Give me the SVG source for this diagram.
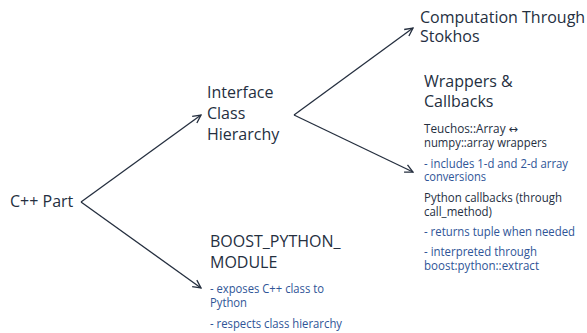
<svg xmlns="http://www.w3.org/2000/svg" width="587" height="333" viewBox="0 0 587 333">
<style>
.h{font-family:"Open Sans",sans-serif;font-size:16px;fill:#252f3f}
.s{font-family:"Open Sans",sans-serif;font-size:12.6px;fill:#252f3f}
.b{font-family:"Open Sans",sans-serif;font-size:12.6px;fill:#2f5597}
.c{stroke:#252f3f;stroke-width:1.3;fill:none}
.sym{font-family:"DejaVu Sans",sans-serif;font-size:12px}
</style>
<defs>
<marker id="ah" viewBox="0 0 10 10" refX="9" refY="5" markerWidth="10" markerHeight="10" markerUnits="userSpaceOnUse" orient="auto">
<polyline points="1,1 9,5 1,9" fill="none" stroke="#252f3f" stroke-width="1.3"/>
</marker>
</defs>
<rect width="587" height="333" fill="#ffffff"/>
<g id="connectors">
<path class="c" d="M81,202 L201,115" marker-end="url(#ah)"/>
<path class="c" d="M81,202 L201,288" marker-end="url(#ah)"/>
<path class="c" d="M294,115 L413,28" marker-end="url(#ah)"/>
<path class="c" d="M294,115 L413,172" marker-end="url(#ah)"/>
</g>
<g id="cpp">
<text class="h" x="10" y="207">C++ Part</text>
</g>
<g id="interface">
<text class="h" x="207" y="98">Interface</text>
<text class="h" x="207" y="119">Class</text>
<text class="h" x="207" y="140">Hierarchy</text>
</g>
<g id="computation">
<text class="h" x="420" y="22.5">Computation Through</text>
<text class="h" x="420" y="42">Stokhos</text>
</g>
<g id="wrappers">
<text class="h" x="424" y="86.5">Wrappers &amp;</text>
<text class="h" x="424" y="107">Callbacks</text>
<text class="s" x="424" y="133" textLength="94" lengthAdjust="spacingAndGlyphs">Teuchos::Array <tspan class="sym">↔</tspan></text>
<text class="s" x="424" y="147" textLength="123" lengthAdjust="spacingAndGlyphs">numpy::array wrappers</text>
<text class="b" x="424" y="168" textLength="144" lengthAdjust="spacingAndGlyphs">- includes 1-d and 2-d array</text>
<text class="b" x="424" y="181" textLength="62" lengthAdjust="spacingAndGlyphs">conversions</text>
<text class="s" x="424" y="202" textLength="138" lengthAdjust="spacingAndGlyphs">Python callbacks (through</text>
<text class="s" x="424" y="216" textLength="68" lengthAdjust="spacingAndGlyphs">call_method)</text>
<text class="b" x="424" y="236" textLength="151" lengthAdjust="spacingAndGlyphs">- returns tuple when needed</text>
<text class="b" x="424" y="256" textLength="113" lengthAdjust="spacingAndGlyphs">- interpreted through</text>
<text class="b" x="424" y="270" textLength="115" lengthAdjust="spacingAndGlyphs">boost:python::extract</text>
</g>
<g id="boost">
<text class="h" x="210" y="247">BOOST_PYTHON_</text>
<text class="h" x="210" y="268">MODULE</text>
<text class="b" x="210" y="292.5" textLength="114" lengthAdjust="spacingAndGlyphs">- exposes C++ class to</text>
<text class="b" x="210" y="306.5" textLength="37" lengthAdjust="spacingAndGlyphs">Python</text>
<text class="b" x="210" y="327.5" textLength="132" lengthAdjust="spacingAndGlyphs">- respects class hierarchy</text>
</g>
</svg>
